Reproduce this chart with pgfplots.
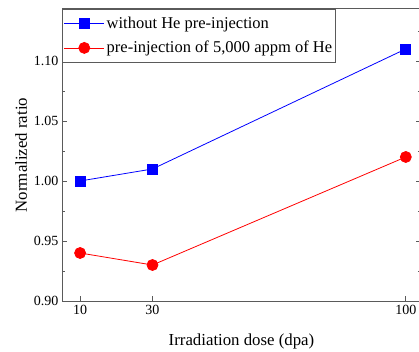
\documentclass[border=0pt]{standalone}
\usepackage{pgfplots}
\pgfplotsset{compat=1.18}
\usepackage{fontspec}
\setmainfont{Liberation Serif}
\definecolor{axgray}{RGB}{90,90,90}
\begin{document}
\begin{tikzpicture}
\begin{axis}[
  scale only axis,
  width=359pt, height=292pt,
  xmin=5, xmax=104.2,
  ymin=0.9, ymax=1.1433,
  xtick={10,30,100},
  ytick={0.90,0.95,1.00,1.05,1.10},
  minor ytick={0.925,0.975,1.025,1.075,1.125},
  xtick pos=bottom, ytick pos=both,
  tick align=inside,
  major tick length=5pt, minor tick length=3pt,
  axis line style={axgray, line width=1pt},
  every tick/.style={axgray, line width=0.8pt},
  yticklabel style={/pgf/number format/.cd, fixed, fixed zerofill, precision=2},
  /pgf/number format/assume math mode=true,
  tick label style={font=\fontsize{14}{16}\selectfont},
  xticklabel style={yshift=-1pt},
  xlabel={Irradiation dose (dpa)},
  ylabel={Normalized ratio},
  label style={font=\fontsize{16.8}{19}\selectfont},
  xlabel style={yshift=-12pt},
  ylabel style={yshift=0pt},
  legend style={at={(0,1)}, anchor=north west, draw=axgray, line width=0.8pt,
    font=\fontsize{16.5}{19}\selectfont, inner xsep=1.5pt, inner ysep=6pt, row sep=7pt,
    cells={anchor=west}},
  legend cell align=left,
  legend image code/.code={
    \draw[mark repeat=2,mark phase=2] plot coordinates {(0pt,0pt) (20pt,0pt) (40pt,0pt)};
  },
]
\addplot[blue, line width=0.8pt, mark=square*, mark size=5pt, mark options={solid, fill=blue}]
  coordinates {(10,1.00) (30,1.01) (100,1.11)};
\addlegendentry{without He pre-injection}
\addplot[red, line width=0.8pt, mark=*, mark size=5.5pt, mark options={solid, fill=red}]
  coordinates {(10,0.94) (30,0.93) (100,1.02)};
\addlegendentry{pre-injection of 5,000 appm of He}
\end{axis}
\pgfresetboundingbox
\path[use as bounding box] ([xshift=-62pt,yshift=-50pt]current axis.south west) rectangle ([xshift=-2pt,yshift=9pt]current axis.north east);
\end{tikzpicture}
\end{document}
